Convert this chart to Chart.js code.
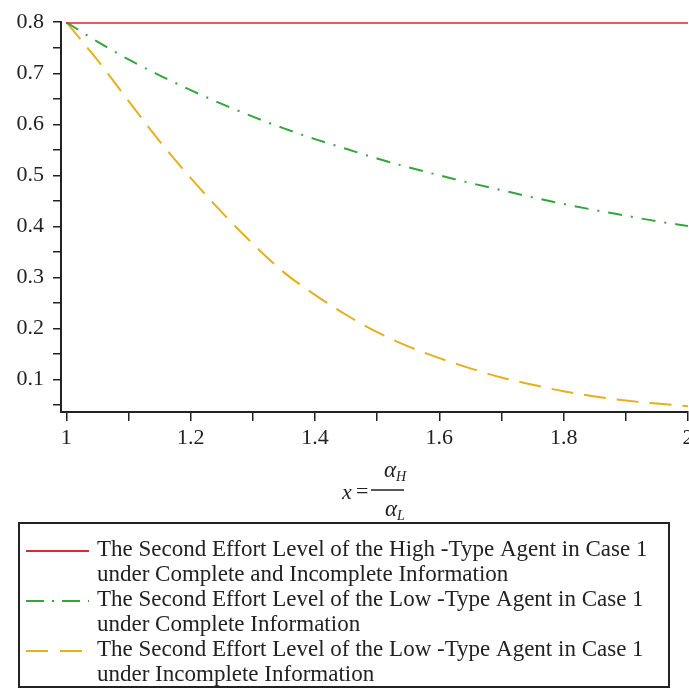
<!DOCTYPE html>
<html>
<head>
<meta charset="utf-8">
<script src="https://cdn.jsdelivr.net/npm/chart.js@4.4.1/dist/chart.umd.min.js"></script>
<style>
  html, body { margin: 0; padding: 0; background: #fff; }
  canvas { display: block; }
</style>
</head>
<body>
<canvas id="effortChart" width="689" height="689"></canvas>
<script>
// x = alpha_H / alpha_L
const ratioValues = [1.00, 1.05, 1.10, 1.15, 1.20, 1.25, 1.30, 1.35, 1.40, 1.45, 1.50,
                     1.55, 1.60, 1.65, 1.70, 1.75, 1.80, 1.85, 1.90, 1.95, 2.00];

// High-type agent, same under complete and incomplete information
const highTypeEffort = [0.8, 0.8, 0.8, 0.8, 0.8, 0.8, 0.8, 0.8, 0.8, 0.8, 0.8,
                        0.8, 0.8, 0.8, 0.8, 0.8, 0.8, 0.8, 0.8, 0.8, 0.8];

// Low-type agent, complete information
const lowTypeComplete = [0.800, 0.762, 0.727, 0.696, 0.667, 0.640, 0.615, 0.592, 0.571, 0.552, 0.533,
                         0.516, 0.500, 0.485, 0.471, 0.457, 0.444, 0.432, 0.421, 0.410, 0.401];

// Low-type agent, incomplete information
const lowTypeIncomplete = [0.800, 0.726, 0.646, 0.567, 0.495, 0.428, 0.366, 0.310, 0.266, 0.227, 0.193,
                           0.165, 0.142, 0.122, 0.104, 0.090, 0.077, 0.067, 0.059, 0.053, 0.048];

const seriesLabels = [
    ['The Second Effort Level of the High -Type Agent in Case 1', 'under Complete and Incomplete Information'],
    ['The Second Effort Level of the Low -Type Agent in Case 1', 'under Complete Information'],
    ['The Second Effort Level of the Low -Type Agent in Case 1', 'under Incomplete Information']
];

const xMajorTicks = [1, 1.2, 1.4, 1.6, 1.8, 2];
const xMinorTicks = [1.1, 1.3, 1.5, 1.7, 1.9];
const yMajorTicks = [0.1, 0.2, 0.3, 0.4, 0.5, 0.6, 0.7, 0.8];
const yMinorTicks = [0.05, 0.15, 0.25, 0.35, 0.45, 0.55, 0.65, 0.75];

const SERIF = '"Liberation Serif", "Times New Roman", serif';
const INK = '#222';

function toPoints(ys) {
    return ratioValues.map((x, i) => ({ x: x, y: ys[i] }));
}

function tickList(major, minor) {
    return major.concat(minor).sort((a, b) => a - b).map(v => ({ value: v }));
}

// Axis title (x = alpha_H / alpha_L) and the boxed legend under the plot
const annotations = {
    id: 'annotations',
    afterDraw(chart) {
        const ctx = chart.ctx;
        ctx.save();
        ctx.fillStyle = INK;
        ctx.strokeStyle = INK;
        ctx.textBaseline = 'middle';

        // x = alpha_H / alpha_L
        ctx.textAlign = 'left';
        ctx.font = 'italic 22px ' + SERIF;
        ctx.fillText('x', 342, 493);
        ctx.font = '22px ' + SERIF;
        ctx.fillText('=', 356, 492);
        ctx.lineWidth = 1.5;
        ctx.beginPath();
        ctx.moveTo(371, 490);
        ctx.lineTo(404, 490);
        ctx.stroke();
        ctx.font = 'italic 23px ' + SERIF;
        ctx.fillText('\u03b1', 384, 471);
        ctx.fillText('\u03b1', 385, 510);
        ctx.font = 'italic 14px ' + SERIF;
        ctx.fillText('H', 396, 477);
        ctx.fillText('L', 397, 516);

        // legend box
        ctx.lineWidth = 2;
        ctx.strokeRect(19, 523, 650, 164);
        chart.data.datasets.forEach((ds, i) => {
            const rowY = 551 + i * 50;
            ctx.save();
            ctx.strokeStyle = ds.borderColor;
            ctx.lineWidth = 2;
            ctx.setLineDash(ds.legendDash || []);
            ctx.beginPath();
            ctx.moveTo(26, rowY);
            ctx.lineTo(89, rowY);
            ctx.stroke();
            ctx.restore();
            ctx.font = '23px ' + SERIF;
            ctx.fillStyle = INK;
            ds.label.forEach((line, j) => {
                ctx.fillText(line, 97, 550 + (i * 2 + j) * 25);
            });
        });
        ctx.restore();
    }
};

new Chart(document.getElementById('effortChart'), {
    type: 'line',
    data: {
        datasets: [
            {
                label: seriesLabels[0],
                data: toPoints(highTypeEffort),
                borderColor: 'rgb(224, 40, 40)',
                borderWidth: 3,
                legendDash: []
            },
            {
                label: seriesLabels[1],
                data: toPoints(lowTypeComplete),
                borderColor: 'rgb(52, 165, 60)',
                borderWidth: 2,
                borderDash: [14, 9, 2, 9],
                legendDash: [18, 8, 2, 8]
            },
            {
                label: seriesLabels[2],
                data: toPoints(lowTypeIncomplete),
                borderColor: 'rgb(228, 176, 30)',
                borderWidth: 2,
                borderDash: [22, 11],
                legendDash: [22, 12]
            }
        ]
    },
    options: {
        responsive: false,
        animation: false,
        layout: { padding: { top: 18, right: 1, bottom: 0, left: 0 } },
        elements: {
            point: { radius: 0 },
            line: { tension: 0, cubicInterpolationMode: 'monotone', fill: false }
        },
        plugins: {
            legend: { display: false },
            tooltip: { enabled: false }
        },
        scales: {
            x: {
                type: 'linear',
                min: 0.9915,
                max: 2,
                afterBuildTicks: (scale) => { scale.ticks = tickList(xMajorTicks, xMinorTicks); },
                afterFit: (scale) => {
                    scale.height = 277;
                    scale.paddingRight = 0;
                    scale.paddingLeft = 0;
                },
                border: { display: true, color: INK, width: 2 },
                grid: { drawOnChartArea: false, drawTicks: true, tickLength: 9, color: INK, lineWidth: 1.5 },
                ticks: {
                    autoSkip: false,
                    maxRotation: 0,
                    padding: 4,
                    color: INK,
                    font: { family: SERIF, size: 22 },
                    callback: (v) => xMajorTicks.includes(v) ? String(v) : ''
                }
            },
            y: {
                type: 'linear',
                min: 0.0365,
                max: 0.8,
                afterBuildTicks: (scale) => { scale.ticks = tickList(yMajorTicks, yMinorTicks); },
                afterFit: (scale) => { scale.width = 61; },
                border: { display: true, color: INK, width: 2 },
                grid: { drawOnChartArea: false, drawTicks: true, tickLength: 8, color: INK, lineWidth: 1.5 },
                ticks: {
                    autoSkip: false,
                    padding: 9,
                    color: INK,
                    font: { family: SERIF, size: 22 },
                    callback: (v) => yMajorTicks.includes(v) ? String(v) : ''
                }
            }
        }
    },
    plugins: [annotations]
});
</script>
</body>
</html>
